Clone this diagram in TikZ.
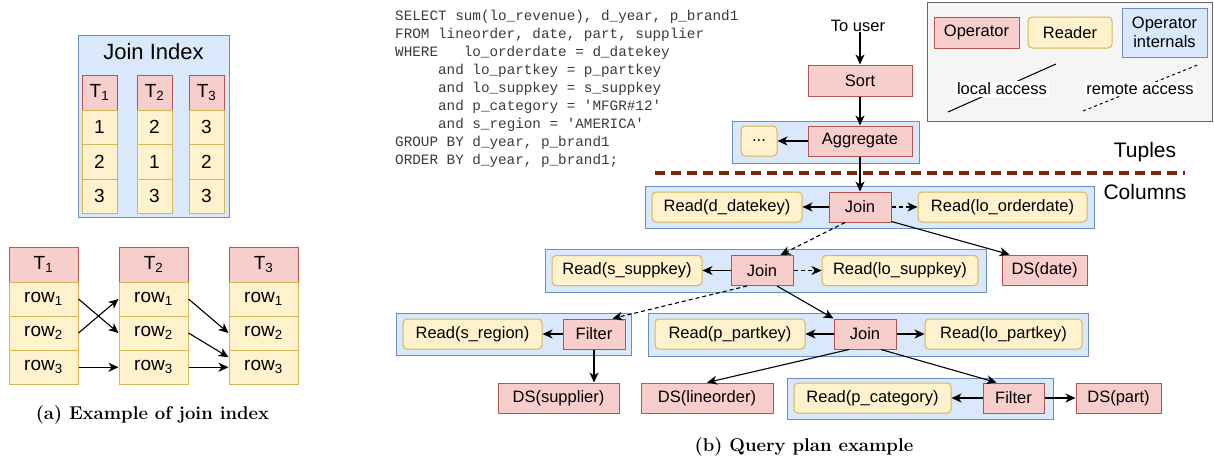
\documentclass[tikz,border=0pt]{standalone}
\usepackage{fontspec}
\newfontfamily\lsans{Liberation Sans}
\setmonofont{Liberation Mono}
\usetikzlibrary{arrows.meta}
\definecolor{opfill}{HTML}{F8CECC}\definecolor{opdraw}{HTML}{B85450}
\definecolor{rdfill}{HTML}{FFF2CC}\definecolor{rddraw}{HTML}{D6B656}
\definecolor{infill}{HTML}{DAE8FC}\definecolor{indraw}{HTML}{6C8EBF}
\definecolor{lgfill}{HTML}{F5F5F5}\definecolor{lgdraw}{HTML}{666666}
\definecolor{sepcol}{RGB}{122,38,8}
\definecolor{sqlcol}{HTML}{3A3A3A}
\begin{document}
\begin{tikzpicture}[x=1pt,y=-1pt,
  lbl/.style={font=\lsans\fontsize{16.5}{19}\selectfont, inner sep=0pt},
  box/.style={lbl, minimum height=30pt, line width=1pt},
  op/.style={box, draw=opdraw, fill=opfill},
  rd/.style={box, draw=rddraw, fill=rdfill, rounded corners=4pt},
  grp/.style={draw=indraw, fill=infill, line width=1pt, inner sep=0pt},
  arr/.style={-{Stealth[length=10pt,width=9pt,inset=3pt]}, line width=1.1pt},
  darr/.style={arr, dash pattern=on 4pt off 3pt},
  tcell/.style={draw=rddraw, fill=rdfill, line width=1pt, inner sep=0pt, font=\lsans\fontsize{19}{22}\selectfont},
  thead/.style={tcell, draw=opdraw, fill=opfill},
  sql/.style={anchor=west, font=\ttfamily\fontsize{14.3}{16}\selectfont, text=sqlcol, inner sep=0pt},
  captxt/.style={font=\bfseries\fontsize{18.5}{22}\selectfont, inner sep=0pt},
  big/.style={font=\lsans\fontsize{21}{24}\selectfont, inner sep=0pt}
]
\useasboundingbox (0,0) rectangle (1214,463);

% ---------- (a) Join index ----------
\node[grp, minimum width=151pt, minimum height=182pt] (jibox) at (153.5,126) {};
\node[font=\lsans\fontsize{22}{25}\selectfont, inner sep=0pt] (jititle) at (153.5,52) {Join Index};
\foreach \c/\x/\a/\b/\d in {1/99.5/1/2/3, 2/154.5/2/1/3, 3/206.5/3/2/3}{
  \node[thead, minimum width=35pt, minimum height=35pt] (jh\c) at (\x,92.5) {T\textsubscript{\c}};
  \node[tcell, minimum width=35pt, minimum height=34.5pt] (ja\c) at (\x,127.25) {\a};
  \node[tcell, minimum width=35pt, minimum height=34.5pt] (jb\c) at (\x,161.75) {\b};
  \node[tcell, minimum width=35pt, minimum height=34.5pt] (jc\c) at (\x,196.25) {\d};
}
\foreach \c/\x in {1/43.5, 2/153.5, 3/263.5}{
  \node[thead, minimum width=69pt, minimum height=35pt] (bh\c) at (\x,264.5) {T\textsubscript{\c}};
  \node[tcell, minimum width=69pt, minimum height=34pt] (br1\c) at (\x,299) {row\textsubscript{1}};
  \node[tcell, minimum width=69pt, minimum height=34pt] (br2\c) at (\x,333) {row\textsubscript{2}};
  \node[tcell, minimum width=69pt, minimum height=34.5pt] (br3\c) at (\x,367.25) {row\textsubscript{3}};
}
\draw[arr] (br11.east) -- (br22.west);
\draw[arr] (br21.east) -- (br12.west);
\draw[arr] (br31.east) -- (br32.west);
\draw[arr] (br12.east) -- (br23.west);
\draw[arr] (br22.east) -- ([yshift=10pt]br33.west);
\draw[arr] (br32.east) -- (br33.west);
\node[captxt] (capa) at (152.5,415) {(a) Example of join index};

% ---------- SQL ----------
\node[sql] (q1) at (395,17) {SELECT sum(lo\_revenue), d\_year, p\_brand1};
\node[sql] (q2) at (395,35) {FROM lineorder, date, part, supplier};
\node[sql] (q3) at (395,53) {WHERE\phantom{xxx}lo\_orderdate = d\_datekey};
\node[sql] (q4) at (395,71) {\phantom{xxxxx}and lo\_partkey = p\_partkey};
\node[sql] (q5) at (395,89) {\phantom{xxxxx}and lo\_suppkey = s\_suppkey};
\node[sql] (q6) at (395,107) {\phantom{xxxxx}and p\_category = \textquotesingle MFGR\#12\textquotesingle};
\node[sql] (q7) at (395,125) {\phantom{xxxxx}and s\_region = \textquotesingle AMERICA\textquotesingle};
\node[sql] (q8) at (395,143) {GROUP BY d\_year, p\_brand1};
\node[sql] (q9) at (395,161) {ORDER BY d\_year, p\_brand1;};

% ---------- Legend ----------
\node[draw=lgdraw, fill=lgfill, line width=1pt, minimum width=285pt, minimum height=119pt, inner sep=0pt] (legend) at (1069.5,61.5) {};
\node[op, minimum width=85pt, minimum height=31pt] (lgop) at (976.5,32.5) {Operator};
\node[rd, minimum width=84pt, minimum height=31pt] (lgrd) at (1070,32.5) {Reader};
\node[grp, lbl, minimum width=85pt, minimum height=49pt, align=center] (lgin) at (1164.5,32.5) {Operator\\internals};
\coordinate (la1) at (948,112); \coordinate (la2) at (1056,64);
\draw[line width=1pt] (la1) -- (la2);
\node[lbl, fill=white, inner sep=2pt] (lalbl) at (1002,89) {local access};
\coordinate (ra1) at (1083,111); \coordinate (ra2) at (1200,64);
\draw[line width=1pt, dash pattern=on 3pt off 3pt] (ra1) -- (ra2);
\node[lbl, fill=white, inner sep=2pt] (ralbl) at (1140,89) {remote access};

% ---------- Upper plan ----------
\node[lbl] (user) at (858,26) {To user};
\node[op, minimum width=104pt, minimum height=31pt] (sort) at (860,80.5) {Sort};
\node[grp, minimum width=187pt, minimum height=42pt] (g0) at (825.5,142) {};
\node[op, minimum width=104pt] (agg) at (860,141) {Aggregate};
\node[rd, minimum width=36pt] (dots) at (759,141) {...};
\draw[arr] ([xshift=2pt]user.south) -- (sort.north);
\draw[arr] (sort.south) -- (agg.north);
\draw[arr] (agg.west) -- (dots.east);

\draw[sepcol, line width=3.5pt, dash pattern=on 10pt off 6pt] (655,173) -- (1185,173);
\node[big] (tuples) at (1145,152) {Tuples};
\node[big] (columns) at (1145,192) {Columns};

% ---------- Row 1 ----------
\node[grp, minimum width=449pt, minimum height=42pt] (g1) at (869.5,207) {};
\node[rd, minimum width=150pt] (rdk) at (727,207) {Read(d\_datekey)};
\node[op, minimum width=62pt] (j1) at (860,207) {Join};
\node[rd, minimum width=169pt] (rlo) at (1002.5,207) {Read(lo\_orderdate)};
\node[op, minimum width=85pt] (dsdate) at (1044.5,270) {DS(date)};
\draw[arr] (agg.south) -- (j1.north);
\draw[arr] (j1.west) -- (rdk.east);
\draw[darr] (j1.east) -- (rlo.west);

% ---------- Row 2 ----------
\node[grp, minimum width=441pt, minimum height=43pt] (g2) at (765.5,270.5) {};
\node[rd, minimum width=150pt] (rss) at (627,270.5) {Read(s\_suppkey)};
\node[op, minimum width=62pt] (j2) at (762,270.5) {Join};
\node[rd, minimum width=156pt] (rls) at (900,270.5) {Read(lo\_suppkey)};
\draw[arr] (j2.west) -- (rss.east);
\draw[darr] (j2.east) -- (rls.west);
\draw[arr] ([yshift=1pt]j1.south east) -- ([xshift=8pt]dsdate.north west);
\draw[darr] ([xshift=-15pt]j1.south) -- ([xshift=-13pt]j2.north east);

% ---------- Row 3 ----------
\node[grp, minimum width=235pt, minimum height=42pt] (g3a) at (513.5,334) {};
\node[rd, minimum width=139pt] (rsr) at (472.5,334) {Read(s\_region)};
\node[op, minimum width=62pt] (f1) at (594,334) {Filter};
\node[op, minimum width=121pt] (dssup) at (558.5,398) {DS(supplier)};
\node[grp, minimum width=440pt, minimum height=43pt] (g3b) at (868,334.5) {};
\node[rd, minimum width=150pt] (rpp) at (730,334) {Read(p\_partkey)};
\node[op, minimum width=62pt] (j3) at (865,334) {Join};
\node[rd, minimum width=157pt] (rlp) at (1003.5,334) {Read(lo\_partkey)};
\node[op, minimum width=132pt] (dslo) at (707,398) {DS(lineorder)};
\draw[darr] ([xshift=-15pt]j2.south) -- ([xshift=-13pt]f1.north east);
\draw[arr] ([xshift=15pt]j2.south) -- (j3.north west);
\draw[arr] (f1.west) -- (rsr.east);
\draw[arr] (f1.south) -- (f1.south |- dssup.north);
\draw[arr] (j3.west) -- (rpp.east);
\draw[arr] (j3.east) -- (rlp.west);

% ---------- Row 4 ----------
\node[grp, minimum width=266pt, minimum height=41pt] (g4) at (920,398.5) {};
\node[rd, minimum width=157pt] (rpc) at (872.5,398) {Read(p\_category)};
\node[op, minimum width=61pt] (f2) at (1013.5,398) {Filter};
\node[op, minimum width=85pt] (dspart) at (1118.5,398) {DS(part)};
\draw[arr] ([xshift=-16pt]j3.south) -- (dslo.north);
\draw[arr] ([xshift=16pt]j3.south) -- ([xshift=14pt]f2.north west);
\draw[arr] (f2.west) -- (rpc.east);
\draw[arr] (f2.east) -- (dspart.west);

\node[captxt] (capb) at (804,447) {(b) Query plan example};
\end{tikzpicture}
\end{document}
